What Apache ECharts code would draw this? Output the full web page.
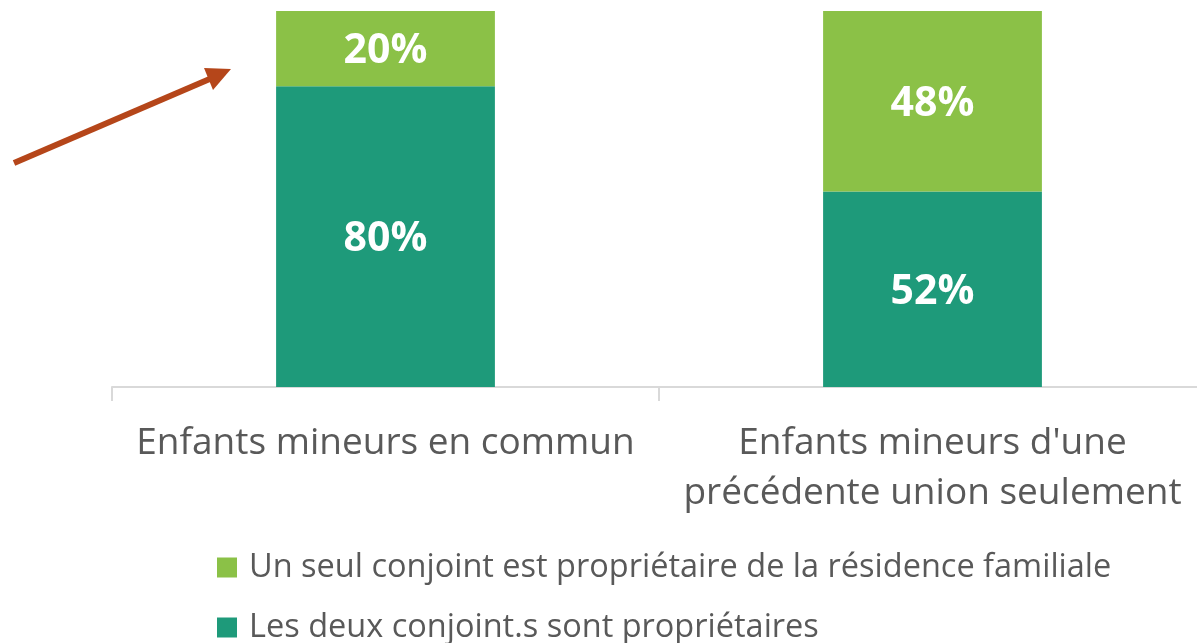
<!DOCTYPE html>
<html>
<head>
<meta charset="utf-8">
<script src="https://cdn.jsdelivr.net/npm/echarts@6/dist/echarts.min.js"></script>
<style>
  html, body { margin: 0; padding: 0; background: #ffffff; }
  #chart { width: 1197px; height: 643px; }
</style>
</head>
<body>
<div id="chart"></div>
<script>
// Catégories (axe horizontal)
const categories = ['Enfants mineurs en commun', "Enfants mineurs d'une\nprécédente union seulement"];

// Noms des séries
const seriesNames = [
  'Un seul conjoint est propriétaire de la résidence familiale',
  'Les deux conjoint.s sont propriétaires'
];

// Parts en % par catégorie
const bothOwners = [80, 52];
const oneOwner = [20, 48];

const COLORS = { one: '#8BC147', both: '#1E9A7A', axis: '#D9D9D9', text: '#595959', arrow: '#B5461A' };
const FONT = '"Open Sans", "Noto Sans", sans-serif';

const chart = echarts.init(document.getElementById('chart'), null, { renderer: 'canvas' });

const labelStyle = {
  show: true,
  position: 'inside',
  offset: [0, 3],
  color: '#ffffff',
  fontFamily: FONT,
  fontWeight: 'bold',
  fontSize: 41,
  formatter: p => p.value + '%'
};

const legendBase = {
  orient: 'vertical',
  left: 217,
  padding: 0,
  itemWidth: 20,
  itemHeight: 20,
  icon: 'rect',
  textStyle: { color: COLORS.text, fontFamily: FONT, fontSize: 32.5, lineHeight: 32, padding: [0, 0, 0, 7] }
};

chart.setOption({
  animation: false,
  grid: { left: 112, top: 11, width: 1094, height: 376, containLabel: false, outerBoundsMode: 'none' },
  xAxis: {
    type: 'category',
    data: categories,
    axisLine: { show: true, lineStyle: { color: COLORS.axis, width: 2 } },
    axisTick: { show: true, length: 14, alignWithLabel: false, lineStyle: { color: COLORS.axis, width: 2 } },
    axisLabel: {
      color: COLORS.text,
      fontFamily: FONT,
      fontSize: 37,
      lineHeight: 50,
      margin: 31,
      interval: 0
    }
  },
  yAxis: {
    type: 'value',
    min: 0,
    max: 100,
    show: false
  },
  legend: [
    Object.assign({}, legendBase, { top: 551, data: [seriesNames[0]] }),
    Object.assign({}, legendBase, { top: 611, data: [seriesNames[1]] })
  ],
  series: [
    {
      name: seriesNames[1],
      type: 'bar',
      stack: 'total',
      barWidth: '40%',
      data: bothOwners,
      itemStyle: { color: COLORS.both },
      label: labelStyle
    },
    {
      name: seriesNames[0],
      type: 'bar',
      stack: 'total',
      barWidth: '40%',
      data: oneOwner,
      itemStyle: { color: COLORS.one },
      label: labelStyle
    }
  ],
  graphic: [
    {
      type: 'line',
      shape: { x1: 14, y1: 163, x2: 212, y2: 78 },
      style: { stroke: COLORS.arrow, lineWidth: 6 }
    },
    {
      type: 'polygon',
      shape: { points: [[231, 69], [204, 68], [213, 90]] },
      style: { fill: COLORS.arrow }
    }
  ]
});
</script>
</body>
</html>
